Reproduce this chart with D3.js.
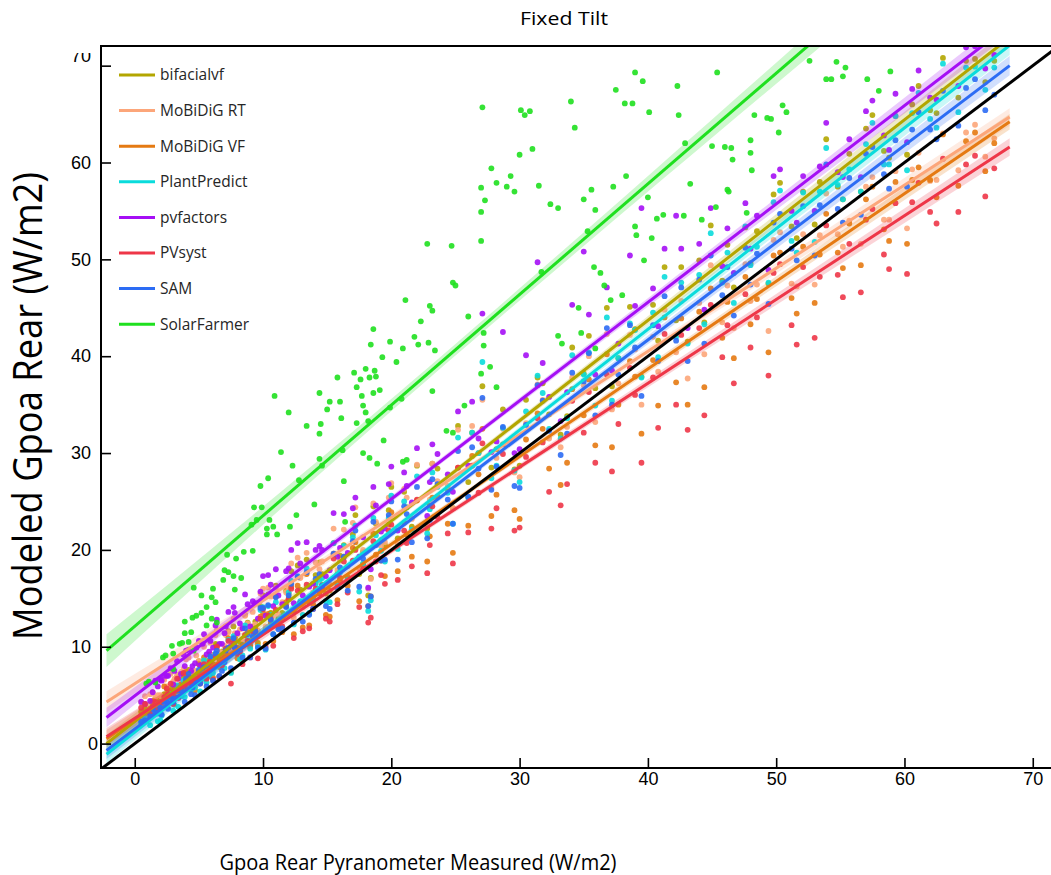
<!DOCTYPE html>
<html>
<head>
<meta charset="utf-8"/>
<title>Fixed Tilt</title>
<script src="https://d3js.org/d3.v7.min.js"></script>
<style>
  body { margin: 0; background: #fff; }
  svg { display: block; }
  .tick text { font-family: "Liberation Sans", Arial, sans-serif; font-size: 18px; fill: #000; }
  .tick line { stroke: #000; stroke-width: 1.6; }
  .legend text { font-family: "Open Sans", sans-serif; font-size: 15.5px; fill: #262626; }
</style>
</head>
<body>
<div id="chart"></div>
<script>
// series names, in draw order
var seriesNames = ["bifacialvf", "MoBiDiG RT", "MoBiDiG VF", "PlantPredict", "pvfactors", "PVsyst", "SAM", "SolarFarmer"];
var seriesColors = ["#b3a600", "#fca67a", "#e57a12", "#0adcdc", "#a50ff5", "#ee3648", "#2c6cf4", "#1fe01f"];

// measured rear irradiance (shared by the first seven models)
var measured = [0.8,1.2,1.6,2.0,2.3,2.6,3.0,3.3,3.6,3.9,4.2,4.5,4.8,5.1,5.4,5.8,6.1,6.4,6.8,7.1,7.5,7.8,8.2,8.6,9.0,9.4,9.8,10.2,10.6,11.0,11.5,12.0,12.4,12.9,13.4,13.9,14.4,14.9,15.5,16.0,16.6,17.2,17.8,18.2,18.4,18.6,19.2,19.8,20.5,21.2,22.0,22.8,23.6,24.4,25.2,26.0,26.8,27.1,27.8,28.7,29.6,30.5,31.4,32.3,33.2,34.1,35.0,35.9,36.8,37.7,38.6,39.5,40.4,41.3,42.2,43.1,44.0,44.9,45.8,46.7,47.6,48.5,49.4,50.3,51.2,52.1,53.0,53.9,54.8,55.7,56.6,57.5,58.4,59.3,60.2,61.1,62.0,63.0,64.2,65.5,67.0,
  1.4,2.1,2.8,3.4,4.0,4.7,5.3,5.9,6.6,7.3,8.0,8.8,9.6,10.4,11.2,12.2,13.1,14.1,15.2,16.3,17.5,18.8,20.0,21.6,23.2,24.8,26.3,28.2,30.0,31.8,33.7,35.4,37.2,39.0,40.8,42.6,44.4,46.2,48.0,49.8,51.6,53.4,55.2,57.0,58.8,60.6,62.5,64.8,66.3,
  0.5,1.8,2.5,3.1,3.8,4.4,5.0,5.6,6.3,7.0,7.7,8.4,9.2,10.0,10.8,11.8,12.7,13.6,14.6,15.8,17.0,19.5,21.0,23.0];

var bifacialvf = [3.6,3.0,4.6,4.5,5.1,5.6,4.6,6.9,5.7,5.7,7.6,7.1,7.4,7.1,8.5,8.6,8.2,10.2,9.5,9.8,9.4,11.0,10.5,13.3,10.2,12.6,14.2,11.8,13.5,16.3,13.5,15.5,13.7,15.9,19.0,15.1,18.7,15.5,20.7,19.4,17.2,23.6,19.8,15.3,17.1,24.5,21.0,24.1,21.2,24.4,28.7,22.2,28.4,26.3,32.8,27.0,30.0,36.9,28.5,34.5,28.3,35.5,37.8,34.0,31.9,40.9,38.2,36.7,45.0,39.8,45.1,37.9,45.3,49.2,43.7,41.5,49.9,53.5,47.8,47.1,53.3,52.9,47.5,57.9,53.4,57.0,53.6,62.4,57.5,60.9,57.0,64.9,61.2,64.8,60.8,67.9,65.4,70.8,66.7,70.7,70.5,
  3.9,4.6,5.7,5.8,6.9,6.7,8.3,9.2,8.7,11.6,9.9,12.5,10.4,15.4,12.9,17.8,14.3,17.4,15.8,20.5,17.5,22.7,26.5,22.4,28.9,24.3,32.1,30.4,28.7,37.2,33.8,42.1,36.9,42.8,41.6,49.2,43.5,51.5,49.6,56.7,52.2,58.0,56.2,63.5,60.5,66.0,65.1,70.5,68.3,
  3.3,3.5,5.7,5.7,6.9,6.6,8.5,6.8,10.3,8.9,12.1,10.2,12.1,15.3,12.4,15.8,18.4,14.6,17.5,17.5,21.6,20.5,26.0,24.6];
var mobidigRT = [4.9,5.1,4.8,5.0,6.6,5.1,6.4,7.1,7.4,5.9,8.9,7.2,9.1,6.7,10.0,8.3,9.1,11.7,9.4,11.2,9.5,11.4,11.8,13.2,11.6,12.3,15.5,12.1,15.2,16.1,14.6,16.1,13.0,17.1,19.7,15.6,18.0,16.1,22.2,18.9,18.3,24.4,20.0,16.0,17.0,24.8,20.4,25.4,20.6,25.4,28.8,22.7,27.1,26.6,32.4,25.5,30.0,35.5,26.4,32.5,28.0,33.1,37.1,31.5,30.6,37.8,37.0,33.2,42.3,37.2,42.2,35.0,42.0,44.8,40.4,37.7,45.5,49.4,43.5,42.9,49.5,47.4,42.6,52.8,47.5,52.6,47.4,56.8,52.6,54.0,51.6,58.5,54.1,59.1,53.2,61.0,58.1,63.0,59.2,63.9,62.5,
  5.3,4.6,7.2,5.8,8.7,7.5,8.2,10.4,9.5,11.5,11.3,12.4,11.7,16.1,13.3,18.6,14.1,18.7,16.4,22.1,18.1,22.9,26.9,23.2,28.9,24.3,32.8,29.5,27.5,35.5,32.7,40.0,34.5,40.7,38.4,45.7,40.2,47.3,45.7,52.0,47.2,52.5,51.3,57.5,54.1,59.3,58.2,63.1,60.6,
  4.3,5.0,5.9,6.7,7.7,7.5,8.5,8.2,11.2,10.1,12.9,10.8,13.6,16.0,13.2,15.6,19.2,15.1,18.8,17.9,22.8,20.8,26.3,25.2];
var mobidigVF = [3.1,3.6,3.9,3.6,5.9,4.7,4.9,5.9,6.1,5.8,6.9,6.5,6.6,6.5,8.9,7.7,6.8,10.0,9.0,9.2,7.4,10.9,9.6,11.2,10.0,11.9,13.1,10.3,12.5,15.2,11.5,15.0,11.3,14.5,17.5,14.4,16.0,13.3,19.6,16.8,16.3,20.8,18.5,14.2,15.2,21.7,18.9,22.6,17.8,21.6,25.1,18.8,25.5,22.7,28.5,22.5,27.8,32.5,23.5,30.9,24.1,31.4,34.1,28.4,26.7,36.6,33.9,30.8,40.2,35.0,39.5,32.0,39.6,44.0,37.3,35.0,44.6,47.0,41.9,39.8,48.2,45.9,40.4,50.7,46.0,51.3,45.5,54.7,50.7,53.7,49.4,57.5,53.1,58.0,51.6,59.5,58.2,62.9,57.6,63.1,62.0,
  4.4,3.8,5.3,5.4,7.4,5.5,7.9,8.5,7.9,10.9,8.8,11.5,10.1,13.4,12.5,16.2,12.0,16.6,13.1,19.3,14.7,19.5,23.9,19.3,25.4,19.7,29.7,25.7,23.2,32.5,29.0,37.6,30.6,37.9,34.9,43.9,36.8,45.6,43.3,50.4,44.4,50.5,49.1,56.2,51.9,58.2,56.4,62.2,59.1,
  2.9,4.0,5.1,5.3,7.2,5.6,8.2,6.9,9.0,8.8,10.7,8.5,11.7,13.5,10.6,14.6,16.3,12.2,16.4,14.8,20.2,17.3,22.8,21.4];
var plantPredict = [2.6,1.9,3.6,2.4,4.5,4.3,3.4,6.0,4.9,4.8,6.0,6.0,6.8,5.4,8.6,7.0,7.3,9.2,8.4,9.8,7.3,10.4,8.7,12.2,9.8,11.0,13.8,9.7,13.3,14.6,12.8,15.6,12.3,14.7,18.1,14.8,16.9,14.7,20.7,17.7,16.9,22.5,18.6,13.7,14.8,23.3,19.9,23.3,20.1,24.4,27.6,21.7,26.5,25.9,31.6,25.4,30.0,39.4,27.4,32.6,28.2,34.3,38.0,32.5,31.5,40.1,38.1,34.9,44.0,39.8,43.4,37.8,44.5,48.2,42.0,41.3,48.4,52.7,47.6,45.5,53.4,51.3,47.6,57.1,51.9,56.9,51.8,61.5,57.7,59.3,57.0,64.1,59.8,64.8,59.2,67.2,64.5,70.2,65.2,69.9,69.8,
  3.5,2.9,5.1,3.8,6.5,5.8,6.7,8.8,6.9,10.7,9.4,10.7,10.0,14.2,12.0,16.8,13.3,16.5,14.6,20.4,15.7,21.5,25.6,22.1,28.0,22.7,32.1,28.7,27.0,36.2,33.6,40.4,35.4,42.7,39.9,47.6,43.3,50.7,49.4,55.9,50.7,57.0,56.2,61.9,59.8,65.1,63.6,69.8,67.5,
  2.1,2.3,4.7,4.0,6.5,5.6,6.9,6.3,9.3,7.8,11.1,9.1,11.0,14.1,11.3,14.2,17.3,13.5,17.1,16.3,21.3,18.8,25.0,24.2];
var pvfactors = [4.1,4.4,6.5,6.6,7.0,7.0,6.1,8.5,7.2,8.0,9.7,8.0,9.9,8.1,11.3,9.5,9.9,12.8,10.3,12.1,10.1,13.5,12.4,15.4,12.1,14.5,15.7,13.2,16.4,18.0,14.4,18.1,14.5,18.6,20.8,16.5,20.4,17.3,23.8,20.2,19.7,25.4,21.3,16.1,18.0,26.5,21.9,26.8,22.0,26.6,30.5,23.5,29.9,27.8,34.3,28.7,31.5,44.4,30.1,42.5,30.0,40.1,49.7,35.8,33.3,45.3,50.8,38.1,47.1,41.3,50.4,55.3,47.0,51.1,54.5,42.9,51.6,55.3,49.3,48.6,55.8,54.5,48.9,59.3,55.0,58.6,55.0,64.1,59.0,62.4,58.5,66.4,62.8,67.1,62.1,69.5,66.7,72.4,67.9,72.0,71.1,
  5.3,6.5,7.8,6.7,9.6,8.3,10.3,10.6,10.3,13.6,11.4,14.4,12.9,17.4,15.3,20.0,15.3,20.0,17.9,23.7,19.3,24.6,28.6,24.9,30.9,26.0,35.3,31.2,30.4,39.3,36.3,44.3,38.5,45.2,43.1,51.1,44.8,53.2,51.1,58.6,53.8,59.6,58.5,65.3,61.3,67.6,66.5,71.9,69.7,
  4.3,5.9,7.0,7.5,9.2,7.5,10.6,9.2,12.2,11.4,14.1,11.9,14.7,17.3,14.2,17.8,20.7,16.2,20.0,19.3,24.3,22.2,28.0,27.0];
var pvsyst = [4.1,3.1,4.3,4.3,4.8,5.1,4.1,6.7,5.8,5.9,6.8,6.5,6.7,6.2,8.2,8.3,6.6,10.0,8.1,9.8,6.2,10.0,9.5,11.2,8.9,11.5,12.9,10.0,12.9,13.8,12.1,14.9,10.9,14.5,16.4,13.9,15.5,12.9,19.1,17.1,15.6,20.0,18.0,12.5,13.0,20.9,17.4,22.0,16.9,20.7,25.2,17.6,23.4,21.7,28.5,21.8,25.9,31.0,22.2,29.9,22.0,29.6,33.6,26.0,24.6,35.4,32.1,29.0,38.1,33.0,38.8,29.0,37.8,42.3,35.0,32.4,42.9,45.3,39.9,37.2,46.4,44.0,38.0,49.5,43.2,49.2,41.9,53.5,48.4,51.6,46.6,55.2,50.5,55.8,48.5,57.9,54.9,60.4,54.9,60.7,59.4,
  3.8,4.3,6.2,4.7,6.5,6.3,7.8,8.5,6.9,10.6,9.3,10.6,8.8,13.2,12.1,16.0,11.6,16.0,12.6,18.8,14.1,18.8,22.6,18.3,24.5,18.6,28.7,24.3,22.3,31.1,26.8,36.3,28.1,36.0,32.6,42.2,33.9,43.2,40.9,48.6,41.2,48.2,46.1,54.1,49.0,55.9,53.7,59.8,56.5,
  3.7,3.5,5.7,4.8,7.3,6.1,7.3,6.7,9.0,8.6,10.4,8.2,11.6,13.9,10.1,14.2,15.8,11.9,16.0,14.4,18.9,16.5,22.0,20.5];
var sam = [2.4,2.8,3.2,3.7,4.3,3.6,4.3,5.5,5.5,4.3,7.2,5.8,6.3,6.2,7.9,7.7,6.5,9.6,7.5,9.6,7.8,9.9,9.7,11.9,8.9,11.6,14.0,9.8,12.8,15.1,11.9,15.3,12.5,14.5,17.7,13.9,17.5,14.2,19.6,18.2,15.8,22.0,19.1,14.2,15.2,22.9,18.9,23.6,19.0,23.7,26.5,21.2,26.8,25.2,30.2,25.5,28.4,35.7,26.2,32.7,26.6,32.9,37.0,32.3,29.8,38.3,37.4,33.9,42.9,38.1,43.2,35.9,43.2,46.2,41.6,39.5,47.9,50.4,46.3,44.2,51.2,50.6,45.4,54.7,51.1,55.5,50.4,59.8,55.2,58.4,54.6,61.6,58.8,62.3,57.5,65.2,63.4,67.4,63.8,68.6,67.0,
  3.6,3.0,4.8,4.8,6.7,5.0,7.3,9.0,7.0,9.9,9.5,11.3,9.9,14.3,11.8,16.5,12.6,17.0,13.9,19.3,16.2,20.5,25.0,20.8,27.3,22.7,30.6,28.6,26.4,35.4,32.0,40.3,35.0,40.9,39.5,47.1,41.3,49.2,47.4,53.8,49.9,55.6,53.8,60.9,57.3,63.4,62.4,67.7,65.4,
  2.3,3.1,4.3,4.6,6.0,5.1,7.6,5.9,9.3,8.4,10.9,8.9,11.1,14.0,11.3,14.1,17.2,13.3,16.3,16.1,20.9,19.0,24.5,23.1];

// SolarFarmer has its own (measured, modeled) pairs
var solarFarmerPts = [
  [0.9,6.2],[1.1,6.4],[1.6,6.3],[2.2,8.9],[2.4,9.1],[3.0,7.7],[3.0,9.3],[2.9,10.1],[3.5,10.3],[3.7,10.4],
  [3.9,11.4],[4.4,11.5],[4.6,9.6],[4.2,10.5],[3.9,12.6],[4.8,13.2],[4.5,13.0],[5.2,13.5],[5.6,12.2],[6.0,12.9],
  [6.4,12.5],[4.6,16.1],[5.2,15.3],[6.1,16.0],[5.6,14.1],[6.0,15.1],[6.3,14.6],[6.9,16.9],[7.0,17.9],[7.3,17.7],
  [7.7,17.3],[8.3,17.1],[7.8,15.9],[7.2,19.5],[7.9,19.1],[8.5,19.8],[9.2,19.9],[9.1,22.6],[9.5,23.1],[9.3,24.4],
  [9.9,24.4],[10.3,22.2],[10.5,23.1],[10.8,22.4],[10.3,21.6],[11.1,21.6],[12.1,22.4],[12.6,23.6],[9.8,26.6],[10.4,27.4],
  [11.4,30.1],[12.3,28.7],[12.8,27.2],[14.0,24.7],[16.3,27.1],[16.4,22.9],[14.4,29.4],[14.6,28.7],[16.2,30.3],[10.9,35.9],
  [12.0,34.2],[13.4,32.8],[14.4,36.2],[15.2,35.3],[16.0,35.3],[15.0,34.5],[16.1,33.6],[14.4,32.0],[14.5,33.0],[15.8,37.8],
  [17.1,38.3],[18.0,38.7],[18.7,38.5],[17.6,37.6],[18.3,37.8],[18.8,37.9],[17.3,36.8],[17.7,35.9],[18.6,36.2],[19.1,36.5],
  [19.3,39.9],[20.4,39.4],[17.8,34.9],[18.0,34.2],[17.3,33.1],[18.2,33.3],[19.4,31.3],[17.8,30.0],[18.3,29.5],[19.9,34.7],
  [20.8,35.6],[23.2,36.4],[25.7,34.9],[24.3,32.3],[24.8,32.1],[20.9,29.1],[21.2,29.3],[18.9,28.9],[18.6,42.8],[18.4,41.2],
  [19.9,41.5],[21.1,45.8],[23.0,45.2],[23.2,44.7],[22.3,43.6],[21.8,42.0],[22.1,41.2],[22.9,41.4],[20.9,40.8],[23.4,40.6],
  [24.7,51.4],[22.8,51.6],[24.8,47.6],[25.0,47.3],[26.0,44.1],[27.2,42.4],[27.2,41.1],[27.7,38.9],[27.0,38.2],[28.2,36.8],
  [27.0,51.9],[27.0,54.9],[27.0,57.4],[27.3,56.1],[27.1,65.7],[27.8,59.4],[29.3,58.6],[28.2,57.9],[29.0,57.5],[29.6,57.0],
  [30.1,65.4],[30.4,64.9],[30.8,65.3],[31.0,61.4],[30.0,60.8],[31.5,57.6],[32.4,55.7],[33.0,55.3],[31.7,48.7],[34.0,66.3],
  [34.3,63.6],[35.0,56.2],[35.6,57.2],[35.9,55.1],[35.3,52.9],[35.8,49.2],[36.3,48.6],[36.6,47.3],[37.1,45.8],[38.0,46.3],
  [34.6,45.0],[33.0,42.1],[33.3,41.3],[34.8,42.4],[35.9,40.8],[37.3,57.5],[38.3,58.6],[37.5,67.5],[38.2,66.1],[38.8,66.1],
  [39.0,69.3],[39.6,68.4],[40.1,65.2],[40.0,56.4],[39.0,53.4],[39.1,52.5],[40.3,52.2],[39.7,49.9],[40.7,54.2],[41.2,54.6],
  [42.3,67.9],[42.4,64.9],[42.8,54.5],[42.9,62.0],[43.3,57.8],[44.2,54.1],[45.3,55.4],[47.7,54.8],[45.4,69.3],[45.0,61.7],
  [46.0,61.6],[46.5,61.5],[46.6,60.3],[46.2,57.2],[46.3,57.0],[48.0,62.3],[48.0,61.0],[48.1,59.2],[48.3,64.9],[49.3,64.6],
  [49.6,64.5],[50.2,63.1],[50.5,65.9],[50.8,65.2],[52.6,70.5],[53.9,68.6],[54.3,68.6],[54.7,70.4],[55.2,68.9],[55.4,69.8],
  [57.1,68.6],[58.0,67.4],[58.9,69.4],[56.5,76.0],[60.5,79.5],[63.5,83.0],[66.5,86.5]
];

// regression lines: modeled value at x = fitX[0] and fitX[1]
var fitX = [-2.2, 68.2];
var fitStart = [0.0, 4.3, 0.5, -1.1, 2.7, 0.7, -0.7, 9.6];
var fitEnd = [72.9, 64.7, 64.2, 72.1, 74.2, 61.6, 70.0, 90.0];
// confidence band half-width at left end, middle (x=25), right end
var bandLeft = [0.9, 1.1, 0.9, 0.9, 1.0, 0.9, 0.9, 1.7];
var bandMid = [0.3, 0.3, 0.3, 0.3, 0.3, 0.3, 0.3, 0.6];
var bandRight = [1.0, 0.9, 0.8, 1.0, 1.0, 0.9, 1.0, 1.7];

var xTicks = [0, 10, 20, 30, 40, 50, 60, 70];
var yTicks = [0, 10, 20, 30, 40, 50, 60, 70];

var modelValues = [bifacialvf, mobidigRT, mobidigVF, plantPredict, pvfactors, pvsyst, sam];

var W = 1051, H = 875;
var svg = d3.select("#chart").append("svg")
    .attr("width", W)
    .attr("height", H);

var x = d3.scaleLinear().domain([-2.63, 71.5]).range([101, 1052]);
var y = d3.scaleLinear().domain([-2.52, 72.03]).range([768, 46]);

var defs = svg.append("defs");
defs.append("clipPath")
    .attr("id", "plotclip")
  .append("rect")
    .attr("x", 101).attr("y", 46)
    .attr("width", 951).attr("height", 722);
// y axis group is translated by 101, so this rect is in its local space
defs.append("clipPath")
    .attr("id", "yaxisclip")
  .append("rect")
    .attr("x", -101).attr("y", 53)
    .attr("width", 130).attr("height", 800);

var plot = svg.append("g").attr("clip-path", "url(#plotclip)");

function seriesPoints(i) {
    if (i == 7) return solarFarmerPts;
    return measured.map(function(m, j) { return [m, modelValues[i][j]]; });
}

function fitAt(i, xv) {
    var t = (xv - fitX[0]) / (fitX[1] - fitX[0]);
    return fitStart[i] + t * (fitEnd[i] - fitStart[i]);
}

var band = d3.area()
    .x(function(d) { return x(d[0]); })
    .y0(function(d) { return y(d[1]); })
    .y1(function(d) { return y(d[2]); })
    .curve(d3.curveNatural);

// scatter + band for every series (matplotlib zorder 1)
seriesNames.forEach(function(name, i) {
    plot.append("g")
        .selectAll("circle")
        .data(seriesPoints(i))
        .enter()
        .append("circle")
        .attr("cx", function(d) { return x(d[0]); })
        .attr("cy", function(d) { return y(d[1]); })
        .attr("r", 2.9)
        .attr("fill", seriesColors[i])
        .attr("fill-opacity", 0.9);

    var bandPts = [
        [fitX[0], fitAt(i, fitX[0]) - bandLeft[i], fitAt(i, fitX[0]) + bandLeft[i]],
        [25, fitAt(i, 25) - bandMid[i], fitAt(i, 25) + bandMid[i]],
        [fitX[1], fitAt(i, fitX[1]) - bandRight[i], fitAt(i, fitX[1]) + bandRight[i]]
    ];
    plot.append("path")
        .attr("d", band(bandPts))
        .attr("fill", seriesColors[i])
        .attr("fill-opacity", 0.22);
});

// regression lines on top
seriesNames.forEach(function(name, i) {
    plot.append("line")
        .attr("x1", x(fitX[0])).attr("y1", y(fitStart[i]))
        .attr("x2", x(fitX[1])).attr("y2", y(fitEnd[i]))
        .attr("stroke", seriesColors[i])
        .attr("stroke-width", 3);
});

// 1:1 line
plot.append("line")
    .attr("x1", x(-2.63)).attr("y1", y(-2.63))
    .attr("x2", x(72)).attr("y2", y(72))
    .attr("stroke", "#000")
    .attr("stroke-width", 3);

// axes
var xAxis = svg.append("g")
    .attr("transform", "translate(0,768)")
    .call(d3.axisBottom(x).tickValues(xTicks).tickSizeInner(-10).tickSizeOuter(0).tickPadding(4));
xAxis.select(".domain").remove();

var yAxis = svg.append("g")
    .attr("transform", "translate(101,0)")
    .attr("clip-path", "url(#yaxisclip)")
    .call(d3.axisLeft(y).tickValues(yTicks).tickSizeInner(-10).tickSizeOuter(0).tickPadding(10));
yAxis.select(".domain").remove();
yAxis.selectAll(".tick").filter(function(d) { return d == 70; })
    .select("text").attr("dy", "-0.25em");
yAxis.selectAll(".tick").filter(function(d) { return d == 0; })
    .select("text").attr("dx", 7);

// spines
svg.append("path")
    .attr("d", "M1052,46H101V768H1052")
    .attr("fill", "none")
    .attr("stroke", "#000")
    .attr("stroke-width", 2);

// legend
var legend = svg.append("g").attr("class", "legend");
seriesNames.forEach(function(name, i) {
    var ly = 75 + i * 35.6;
    legend.append("line")
        .attr("x1", 119).attr("x2", 155)
        .attr("y1", ly).attr("y2", ly)
        .attr("stroke", seriesColors[i])
        .attr("stroke-width", 3);
    legend.append("text")
        .attr("x", 160).attr("y", ly)
        .attr("dy", "0.35em")
        .text(name);
});

// titles
svg.append("text")
    .attr("x", 564).attr("y", 25)
    .attr("text-anchor", "middle")
    .attr("textLength", 88)
    .attr("lengthAdjust", "spacingAndGlyphs")
    .style("font-family", "Open Sans, sans-serif")
    .style("font-size", "19px")
    .text("Fixed Tilt");

svg.append("text")
    .attr("x", 418).attr("y", 870)
    .attr("text-anchor", "middle")
    .attr("textLength", 397)
    .attr("lengthAdjust", "spacingAndGlyphs")
    .style("font-family", "Open Sans, sans-serif")
    .style("font-size", "21px")
    .text("Gpoa Rear Pyranometer Measured (W/m2)");

svg.append("text")
    .attr("transform", "translate(42,406) rotate(-90)")
    .attr("text-anchor", "middle")
    .attr("textLength", 468)
    .attr("lengthAdjust", "spacingAndGlyphs")
    .style("font-family", "Open Sans, sans-serif")
    .style("font-size", "40px")
    .text("Modeled Gpoa Rear (W/m2)");
</script>
</body>
</html>
